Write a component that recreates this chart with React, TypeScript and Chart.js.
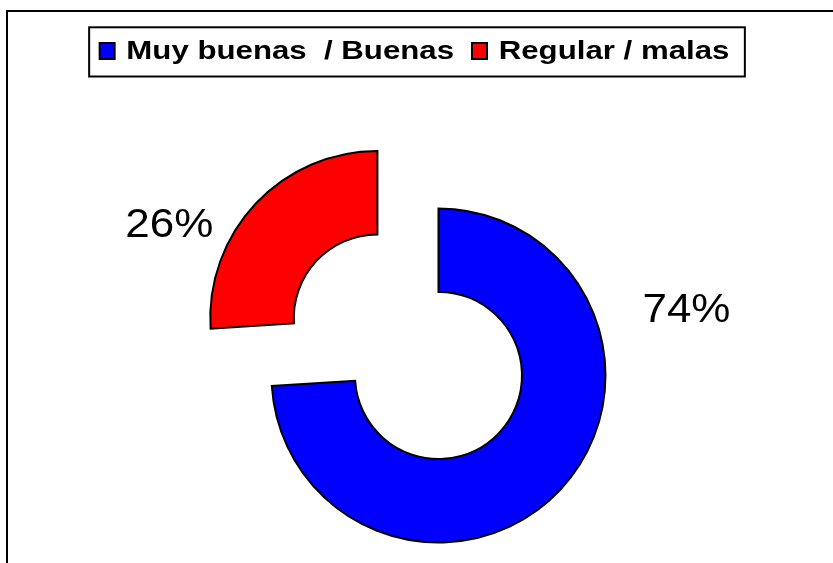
import React, { useEffect, useRef } from 'react';
import { Chart, registerables } from 'chart.js';

Chart.register(...registerables);

// ---- data ----
const categories = ['Muy buenas  / Buenas', 'Regular / malas'];
const values = [74, 26];
const valueLabels = ['74%', '26%'];
const colors = ['#0000FF', '#FF0000'];

// ---- style / layout ----
const W = 833;
const H = 563;
const explode = [0, 335]; // Chart.js translates by offset/4
const labelAngles = [-15.4, -155.3]; // degrees, direction from slice centre
const labelDist = [1.54, 1.372]; // multiples of outer radius

const framePlugin = {
  id: 'frame',
  beforeDraw(chart: any) {
    const ctx = chart.ctx;
    ctx.save();
    ctx.fillStyle = '#ffffff';
    ctx.fillRect(0, 0, chart.width, chart.height);
    ctx.strokeStyle = '#000';
    ctx.lineWidth = 2;
    ctx.strokeRect(7, 11, chart.width + 20, chart.height + 20);
    ctx.restore();
  },
};

const legendPlugin = {
  id: 'boxLegend',
  afterDraw(chart: any) {
    const ctx = chart.ctx;
    const sx = 1.2;
    ctx.save();
    ctx.font = 'bold 26px "Liberation Sans", Arial, sans-serif';
    const labels: string[] = chart.data.labels;
    const bg: string[] = chart.data.datasets[0].backgroundColor;
    const widths = labels.map((l) => ctx.measureText(l).width * sx);
    const padL = 9.5, boxW = 17, gapT = 10.7, gapItem = 17, padR = 15.5;
    const total =
      padL +
      widths.reduce((a, w) => a + boxW + gapT + w, 0) +
      gapItem * (labels.length - 1) +
      padR;
    const left = chart.width / 2 + 0.5 - total / 2;
    const top = 27.3, bottom = 76.5;
    ctx.strokeStyle = '#000';
    ctx.lineWidth = 2;
    ctx.fillStyle = '#fff';
    ctx.fillRect(left, top, total, bottom - top);
    ctx.strokeRect(left, top, total, bottom - top);
    let x = left + padL;
    labels.forEach((l, i) => {
      ctx.fillStyle = bg[i];
      ctx.fillRect(x + 1, 43, boxW - 2, 16);
      ctx.strokeStyle = '#000';
      ctx.lineWidth = 2;
      ctx.strokeRect(x + 1, 43, boxW - 2, 16);
      x += boxW + gapT;
      ctx.save();
      ctx.translate(x, 58.5);
      ctx.scale(sx, 1);
      ctx.fillStyle = '#000';
      ctx.textBaseline = 'alphabetic';
      ctx.textAlign = 'left';
      ctx.fillText(l, 0, 0);
      ctx.restore();
      x += widths[i] + gapItem;
    });
    ctx.restore();
  },
};

const valueLabelPlugin = {
  id: 'valueLabels',
  afterDatasetsDraw(chart: any) {
    const ctx = chart.ctx;
    const meta = chart.getDatasetMeta(0);
    const fs = 40;
    meta.data.forEach((arc: any, i: number) => {
      const { x, y, startAngle, endAngle, outerRadius } = arc.getProps(
        ['x', 'y', 'startAngle', 'endAngle', 'outerRadius'],
        true
      );
      const off = (arc.options.offset || 0) / 4;
      const mid = (startAngle + endAngle) / 2;
      const cx = x + Math.cos(mid) * off;
      const cy = y + Math.sin(mid) * off;
      const a = (labelAngles[i] * Math.PI) / 180;
      const r = outerRadius * labelDist[i];
      const lx = cx + Math.cos(a) * r;
      const ly = cy + Math.sin(a) * r;
      ctx.save();
      ctx.font = `${fs}px "Liberation Sans", Arial, sans-serif`;
      ctx.fillStyle = '#000';
      ctx.textAlign = 'center';
      ctx.textBaseline = 'alphabetic';
      ctx.translate(lx, ly + (0.716 * fs) / 2);
      ctx.scale(1.1, 1);
      ctx.fillText(valueLabels[i], 0, 0);
      ctx.restore();
    });
  },
};

export default function App() {
  const ref = useRef<HTMLCanvasElement>(null);
  useEffect(() => {
    const chart = new Chart(ref.current as HTMLCanvasElement, {
      type: 'doughnut',
      data: {
        labels: categories,
        datasets: [
          {
            data: values,
            backgroundColor: colors,
            borderColor: '#000',
            borderWidth: 2,
            borderJoinStyle: 'miter',
            offset: explode,
            radius: 167,
            cutout: '50%',
            clip: false,
          } as any,
        ],
      },
      options: {
        responsive: false,
        animation: false,
        events: [],
        layout: { padding: { left: 44, right: 0, top: 188, bottom: 0 } },
        plugins: { legend: { display: false }, tooltip: { enabled: false } },
      } as any,
      plugins: [framePlugin, legendPlugin, valueLabelPlugin],
    });
    return () => chart.destroy();
  }, []);
  return (
    <div style={{ position: 'fixed', left: 0, top: 0, width: W, height: H, background: '#fff' }}>
      <canvas ref={ref} width={W} height={H} style={{ display: 'block' }} />
    </div>
  );
}
